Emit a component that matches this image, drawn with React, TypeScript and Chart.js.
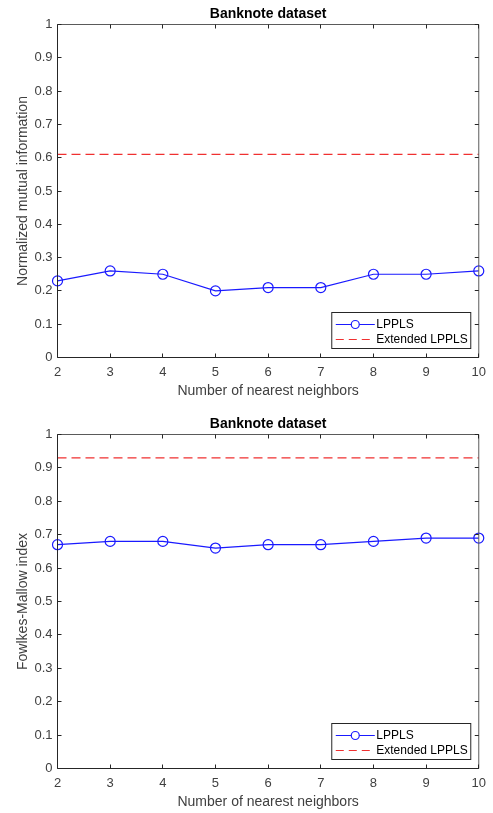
import React, { useEffect, useRef } from "react";
import { Chart, registerables } from "chart.js";

Chart.register(...registerables);

// ---- data ----
const neighbors = ["2", "3", "4", "5", "6", "7", "8", "9", "10"];
const nmiLPPLS = [0.23, 0.26, 0.25, 0.2, 0.21, 0.21, 0.25, 0.25, 0.26];
const nmiExtended = [0.61, 0.61, 0.61, 0.61, 0.61, 0.61, 0.61, 0.61, 0.61];
const fmiLPPLS = [0.67, 0.68, 0.68, 0.66, 0.67, 0.67, 0.68, 0.69, 0.69];
const fmiExtended = [0.93, 0.93, 0.93, 0.93, 0.93, 0.93, 0.93, 0.93, 0.93];
const seriesNames = ["LPPLS", "Extended LPPLS"];
const chartTitle = "Banknote dataset";
const xAxisTitle = "Number of nearest neighbors";
const yAxisTitles = ["Normalized mutual information", "Fowlkes-Mallow index"];
const yMin = 0;
const yMax = 1;
const yStep = 0.1;

const FONT = '"Liberation Sans", Arial, Helvetica, sans-serif';
const AXIS_COLOR = "#262626";
const TEXT_COLOR = "#404040";
const BLUE = "#1a1aff";
const RED = "#f03030";

const framePlugin = {
  id: "matlabFrame",
  afterDraw(chart: any) {
    const opts = chart.options.plugins.matlabFrame;
    const { ctx, chartArea: a, scales } = chart;
    const xs = scales.x;
    const ys = scales.y;
    ctx.save();
    // box
    ctx.strokeStyle = AXIS_COLOR;
    ctx.lineWidth = 1;
    ctx.beginPath();
    ctx.moveTo(a.left, a.top);
    ctx.lineTo(a.left, a.bottom);
    ctx.lineTo(a.right, a.bottom);
    ctx.stroke();
    ctx.strokeStyle = "#5a5a5a";
    ctx.beginPath();
    ctx.moveTo(a.left, a.top);
    ctx.lineTo(a.right, a.top);
    ctx.lineTo(a.right, a.bottom);
    ctx.stroke();
    // ticks
    const tl = 4;
    ctx.strokeStyle = AXIS_COLOR;
    ctx.beginPath();
    xs.ticks.forEach((_t: any, i: number) => {
      const px = Math.round(xs.getPixelForTick(i) - 0.5) + 0.5;
      ctx.moveTo(px, a.bottom);
      ctx.lineTo(px, a.bottom - tl);
      ctx.moveTo(px, a.top);
      ctx.lineTo(px, a.top + tl);
    });
    ys.ticks.forEach((_t: any, i: number) => {
      const py = Math.round(ys.getPixelForTick(i) - 0.5) + 0.5;
      ctx.moveTo(a.left, py);
      ctx.lineTo(a.left + tl, py);
      ctx.moveTo(a.right, py);
      ctx.lineTo(a.right - tl, py);
    });
    ctx.stroke();

    // title
    ctx.fillStyle = "#000";
    ctx.font = `bold 14px ${FONT}`;
    ctx.textAlign = "center";
    ctx.textBaseline = "alphabetic";
    ctx.fillText(opts.title, (a.left + a.right) / 2, a.top - 7);
    // x title
    ctx.fillStyle = TEXT_COLOR;
    ctx.font = `14px ${FONT}`;
    ctx.fillText(opts.xTitle, (a.left + a.right) / 2, a.bottom + 37.5);
    // y title
    ctx.save();
    ctx.translate(27, (a.top + a.bottom) / 2);
    ctx.rotate(-Math.PI / 2);
    ctx.fillText(opts.yTitle, 0, 0);
    ctx.restore();

    // legend
    const lx0 = a.right - 147;
    const lx1 = a.right - 8;
    const ly1 = a.bottom - 9;
    const ly0 = ly1 - 36;
    ctx.fillStyle = "#fff";
    ctx.fillRect(lx0, ly0, lx1 - lx0, ly1 - ly0);
    ctx.strokeStyle = AXIS_COLOR;
    ctx.lineWidth = 1;
    ctx.strokeRect(lx0, ly0, lx1 - lx0, ly1 - ly0);
    const r1 = Math.round(ly0 + 11) + 0.5;
    const r2 = Math.round(ly0 + 26) + 0.5;
    // LPPLS entry
    ctx.strokeStyle = BLUE;
    ctx.lineWidth = 1.2;
    ctx.beginPath();
    ctx.moveTo(lx0 + 4, r1);
    ctx.lineTo(lx0 + 43, r1);
    ctx.stroke();
    ctx.beginPath();
    ctx.arc(lx0 + 23.5, r1, 4, 0, Math.PI * 2);
    ctx.fillStyle = "#fff";
    ctx.fill();
    ctx.stroke();
    // Extended entry
    ctx.strokeStyle = RED;
    ctx.setLineDash([8, 5]);
    ctx.beginPath();
    ctx.moveTo(lx0 + 4, r2);
    ctx.lineTo(lx0 + 43, r2);
    ctx.stroke();
    ctx.setLineDash([]);
    ctx.fillStyle = "#000";
    ctx.font = `12px ${FONT}`;
    ctx.textAlign = "left";
    ctx.textBaseline = "middle";
    ctx.fillText(opts.names[0], lx0 + 44.5, r1);
    ctx.fillText(opts.names[1], lx0 + 44.5, r2);
    ctx.restore();
  },
};

type PanelProps = {
  top: number;
  height: number;
  padTop: number;
  xHeight: number;
  lppls: number[];
  extended: number[];
  yTitle: string;
};

function Panel({ top, height, padTop, xHeight, lppls, extended, yTitle }: PanelProps) {
  const ref = useRef<HTMLCanvasElement | null>(null);
  useEffect(() => {
    if (!ref.current) return;
    const chart = new Chart(ref.current, {
      type: "line",
      data: {
        labels: neighbors,
        datasets: [
          {
            label: seriesNames[0],
            data: lppls,
            borderColor: BLUE,
            backgroundColor: "rgba(0,0,0,0)",
            borderWidth: 1.2,
            pointRadius: 5,
            pointBorderWidth: 1.2,
            pointBorderColor: BLUE,
            pointBackgroundColor: "rgba(0,0,0,0)",
            tension: 0,
            clip: false as any,
          },
          {
            label: seriesNames[1],
            data: extended,
            borderColor: RED,
            borderWidth: 1.2,
            borderDash: [9, 5],
            pointRadius: 0,
            tension: 0,
          },
        ],
      },
      options: {
        responsive: false,
        animation: false,
        events: [],
        layout: { padding: { top: padTop, left: 0, right: 13.5, bottom: 0 } },
        plugins: {
          legend: { display: false },
          tooltip: { enabled: false },
          title: { display: false },
          matlabFrame: { title: chartTitle, xTitle: xAxisTitle, yTitle, names: seriesNames },
        } as any,
        scales: {
          x: {
            type: "category",
            offset: false,
            grid: { display: false, drawTicks: false },
            border: { display: false },
            ticks: {
              color: TEXT_COLOR,
              font: { family: FONT, size: 13 },
              padding: 7,
              maxRotation: 0,
              autoSkip: false,
            },
            afterFit: (s: any) => {
              s.height = xHeight;
            },
          },
          y: {
            type: "linear",
            min: yMin,
            max: yMax,
            grid: { display: false, drawTicks: false },
            border: { display: false },
            ticks: {
              stepSize: yStep,
              color: TEXT_COLOR,
              font: { family: FONT, size: 13 },
              padding: 5,
              callback: (v: any) => String(Number(Number(v).toFixed(1))),
            },
            afterFit: (s: any) => {
              s.width = 57.5;
            },
          },
        },
      },
      plugins: [framePlugin],
    });
    return () => chart.destroy();
  }, []);
  return (
    <canvas
      ref={ref}
      width={493}
      height={height}
      style={{ position: "absolute", left: 0, top, width: 493, height }}
    />
  );
}

export default function App() {
  return (
    <div style={{ position: "absolute", left: 0, top: 0, width: 493, height: 813, background: "#fff" }}>
      <Panel top={0} height={400} padTop={24.5} xHeight={42.5} lppls={nmiLPPLS} extended={nmiExtended} yTitle={yAxisTitles[0]} />
      <Panel top={400} height={413} padTop={34.5} xHeight={44.5} lppls={fmiLPPLS} extended={fmiExtended} yTitle={yAxisTitles[1]} />
    </div>
  );
}
